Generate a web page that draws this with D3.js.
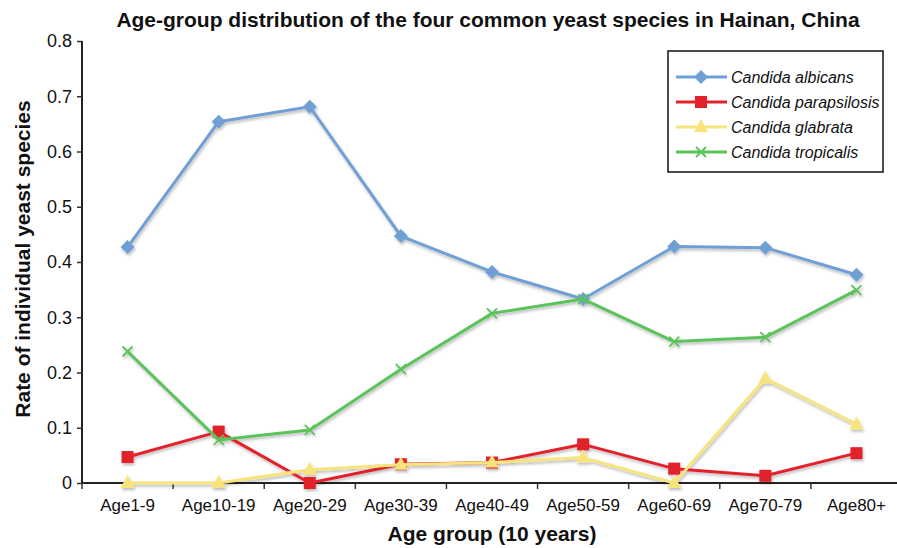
<!DOCTYPE html>
<html><head><meta charset="utf-8">
<script src="https://cdn.jsdelivr.net/npm/d3@7"></script>
<style>body{margin:0;background:#fff}svg{display:block}text{font-family:"Liberation Sans",Arial,sans-serif}</style>
</head><body><svg id="c" width="897" height="548"></svg>
<script>
const categories = ["Age1-9","Age10-19","Age20-29","Age30-39","Age40-49","Age50-59","Age60-69","Age70-79","Age80+"];
const albicans     = [0.427,0.654,0.681,0.447,0.382,0.333,0.428,0.426,0.377];
const parapsilosis = [0.047,0.093,0.0,0.034,0.037,0.070,0.026,0.013,0.054];
const glabrata     = [0.0,0.0,0.024,0.033,0.037,0.046,0.0,0.189,0.106];
const tropicalis   = [0.238,0.078,0.096,0.206,0.307,0.333,0.256,0.264,0.349];
const yTicks = [0,0.1,0.2,0.3,0.4,0.5,0.6,0.7,0.8];
const seriesNames = ["Candida albicans","Candida parapsilosis","Candida glabrata","Candida tropicalis"];

const series = [
  {name:seriesNames[0], values:albicans, color:"#6f9fd6", marker:"diamond"},
  {name:seriesNames[1], values:parapsilosis, color:"#e2222b", marker:"square"},
  {name:seriesNames[2], values:glabrata, color:"#f7e47c", marker:"triangle"},
  {name:seriesNames[3], values:tropicalis, color:"#5cc35b", marker:"cross"}
];

const svg = d3.select("#c");
const L = 82, R = 902, T = 41, B = 483;
const x = d3.scaleBand().domain(categories).range([L, R]);
const y = d3.scaleLinear().domain([0, 0.8]).range([B, T]);

const defs = svg.append("defs");
const f = defs.append("filter").attr("id","sh").attr("x","-20%").attr("y","-20%").attr("width","140%").attr("height","140%");
f.append("feDropShadow").attr("dx",1).attr("dy",2).attr("stdDeviation",1.4).attr("flood-color","#000").attr("flood-opacity",0.28);
const g2 = defs.append("filter").attr("id","gsh").attr("x","-5%").attr("y","-50%").attr("width","110%").attr("height","300%");
g2.append("feDropShadow").attr("dx",0).attr("dy",1.5).attr("stdDeviation",0.8).attr("flood-color","#000").attr("flood-opacity",0.25);

// title
svg.append("text").attr("x", 488).attr("y", 27).attr("text-anchor","middle")
  .attr("font-size",21).attr("font-weight","bold").attr("fill","#111")
  .text("Age-group distribution of the four common yeast species in Hainan, China");

// gridlines
svg.append("g").selectAll("line").data(yTicks.filter(d=>d>0)).join("line")
  .attr("x1", L).attr("x2", 897).attr("y1", d=>y(d)).attr("y2", d=>y(d))
  .attr("stroke","#4d4d4d").attr("stroke-width",1.6).attr("filter","url(#gsh)");

// y axis
const ya = svg.append("g").attr("transform",`translate(${L},0)`)
  .call(d3.axisLeft(y).tickValues(yTicks).tickFormat(d=> d===0?"0":d3.format(".1f")(d)).tickSize(5).tickPadding(5));
ya.select(".domain").attr("stroke","#222").attr("stroke-width",2).attr("d",`M0,${T}V${B}`);
ya.selectAll(".tick line").attr("stroke","#333").attr("stroke-width",1.5);
ya.selectAll(".tick text").attr("font-size",18).attr("fill","#111").attr("font-family","Liberation Sans, Arial, sans-serif");

// x axis
const xa = svg.append("g").attr("transform",`translate(0,${B})`)
  .call(d3.axisBottom(x).tickSize(0).tickPadding(16));
xa.select(".domain").attr("stroke","#222").attr("stroke-width",2).attr("d",`M${L},0H897`);
xa.selectAll(".tick text").attr("font-size",17).attr("fill","#111").attr("font-family","Liberation Sans, Arial, sans-serif");
// boundary ticks
svg.append("g").selectAll("line").data(categories).join("line")
  .attr("x1", d=>x(d)).attr("x2", d=>x(d)).attr("y1",B).attr("y2",B+6)
  .attr("stroke","#333").attr("stroke-width",1.5);

// axis titles
svg.append("text").attr("transform",`translate(30,${(T+B)/2-3}) rotate(-90)`).attr("text-anchor","middle")
  .attr("font-size",21).attr("font-weight","bold").attr("fill","#111").text("Rate of individual yeast species");
svg.append("text").attr("x",(L+R)/2).attr("y",541).attr("text-anchor","middle")
  .attr("font-size",21).attr("font-weight","bold").attr("fill","#111").text("Age group (10 years)");

function drawMarker(sel, type, color, cx, cy){
  if(type==="diamond"){
    sel.append("path").attr("d",`M${cx},${cy-7}L${cx+7},${cy}L${cx},${cy+7}L${cx-7},${cy}Z`).attr("fill",color);
  } else if(type==="square"){
    sel.append("rect").attr("x",cx-6).attr("y",cy-6).attr("width",12).attr("height",12).attr("fill",color);
  } else if(type==="triangle"){
    sel.append("path").attr("d",`M${cx},${cy-8}L${cx+7},${cy+5}L${cx-7},${cy+5}Z`).attr("fill",color);
  } else {
    sel.append("path").attr("d",`M${cx-5},${cy-5}L${cx+5},${cy+5}M${cx-5},${cy+5}L${cx+5},${cy-5}`).attr("stroke",color).attr("stroke-width",1.8).attr("fill","none");
  }
}

const line = d3.line().x((d,i)=>x(categories[i])+x.bandwidth()/2).y(d=>y(d));
const plot = svg.append("g").attr("filter","url(#sh)");
series.forEach(s=>{
  const g = plot.append("g");
  g.append("path").attr("d", line(s.values)).attr("fill","none").attr("stroke",s.color).attr("stroke-width",3).attr("stroke-linejoin","round");
  s.values.forEach((v,i)=>drawMarker(g, s.marker, s.color, x(categories[i])+x.bandwidth()/2, y(v)));
});

// legend
const lg = svg.append("g");
lg.append("rect").attr("x",668).attr("y",51).attr("width",215).attr("height",121).attr("fill","#fff").attr("stroke","#111").attr("stroke-width",1.5);
series.forEach((s,i)=>{
  const cy = 77 + i*25;
  const g = lg.append("g");
  g.append("line").attr("x1",676).attr("x2",727).attr("y1",cy).attr("y2",cy).attr("stroke",s.color).attr("stroke-width",3);
  drawMarker(g, s.marker, s.color, 701, cy);
  lg.append("text").attr("x",731).attr("y",cy+5.5).attr("font-size",16).attr("font-style","italic").attr("fill","#111").text(s.name);
});
</script></body></html>
